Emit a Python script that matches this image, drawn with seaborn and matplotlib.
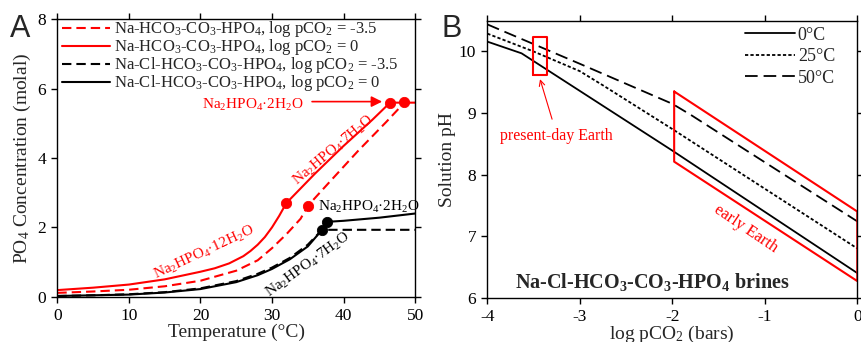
import matplotlib
matplotlib.use("Agg")
import matplotlib.pyplot as plt
import seaborn as sns

# -----------------------------
# Data: panel A (PO4 solubility vs temperature)
# -----------------------------
red_solid_T = [0, 5, 10, 15, 20, 22, 24, 26, 27, 28, 29, 30, 31, 32, 36, 40, 44, 46.5, 48.5, 50]
red_solid_C = [0.19, 0.26, 0.35, 0.5, 0.72, 0.82, 0.96, 1.17, 1.32, 1.5, 1.72, 2.0, 2.33, 2.7,
               3.55, 4.35, 5.1, 5.6, 5.6, 5.6]

red_dash_T = [0, 5, 10, 15, 20, 25, 28, 30, 32, 34, 35, 38, 42, 46, 48.5, 50]
red_dash_C = [0.11, 0.15, 0.2, 0.3, 0.46, 0.75, 1.05, 1.4, 1.8, 2.25, 2.62, 3.3, 4.2, 5.05, 5.6, 5.6]

blk_solid_T = [0, 5, 10, 15, 20, 25, 28, 30, 32.5, 35, 37, 37.7, 40, 45, 50]
blk_solid_C = [0.02, 0.04, 0.06, 0.12, 0.22, 0.42, 0.62, 0.8, 1.08, 1.45, 1.93, 2.16, 2.19, 2.28, 2.4]

blk_dash_T = [0, 5, 10, 15, 20, 25, 28, 30, 32.5, 35, 37, 50]
blk_dash_C = [0.02, 0.04, 0.07, 0.13, 0.24, 0.45, 0.66, 0.84, 1.12, 1.5, 1.93, 1.93]

red_pts_T = [32.0, 35.0, 46.5, 48.5]
red_pts_C = [2.7, 2.62, 5.6, 5.62]
blk_pts_T = [37.0, 37.7]
blk_pts_C = [1.93, 2.16]

legend_A = [
    r"Na-HCO$_3$-CO$_3$-HPO$_4$, log pCO$_2$ = -3.5",
    r"Na-HCO$_3$-CO$_3$-HPO$_4$, log pCO$_2$ = 0",
    r"Na-Cl-HCO$_3$-CO$_3$-HPO$_4$, log pCO$_2$ = -3.5",
    r"Na-Cl-HCO$_3$-CO$_3$-HPO$_4$, log pCO$_2$ = 0",
]

# -----------------------------
# Data: panel B (pH vs log pCO2)
# -----------------------------
pH0_x = [-4, -3.63, -2, 0]
pH0_y = [10.16, 9.97, 8.39, 6.40]
pH25_x = [-4, -3.5, -3.0, -2.75, -2, 0]
pH25_y = [10.29, 10.0, 9.68, 9.45, 8.74, 6.80]
pH50_x = [-4, -3, -2.2, -2, -1.8, -1, 0]
pH50_y = [10.44, 9.8, 9.28, 9.15, 8.97, 8.2, 7.24]

present_box_x = [-3.51, -3.36, -3.36, -3.51, -3.51]
present_box_y = [9.62, 9.62, 10.24, 10.24, 9.62]
early_box_x = [-1.98, 0, 0, -1.98, -1.98]
early_box_y = [9.35, 7.40, 6.27, 8.21, 9.35]

legend_B = ["0°C", "25°C", "50°C"]

# -----------------------------
# Style
# -----------------------------
sns.set_style("ticks")
plt.rcParams.update({
    "font.family": ["Liberation Serif", "DejaVu Serif"],
    "mathtext.fontset": "custom",
    "mathtext.rm": "Liberation Serif",
    "mathtext.it": "Liberation Serif:italic",
    "mathtext.bf": "Liberation Serif:bold",
    "axes.unicode_minus": False,
    "font.size": 12,
    "axes.edgecolor": "black",
    "axes.linewidth": 1.0,
    "xtick.color": "black",
    "ytick.color": "black",
    "xtick.labelsize": 12.5,
    "ytick.labelsize": 12.5,
    "axes.labelsize": 14,
})

fig = plt.figure(figsize=(8.61, 3.42), dpi=100)
axA = fig.add_axes([0.0666, 0.1325, 0.4155, 0.8105])
axB = fig.add_axes([0.566, 0.1295, 0.4297, 0.81])

RED = "#ff0000"
dashA = (0, (4.5, 2.4))

# -----------------------------
# Panel A
# -----------------------------
sns.lineplot(x=red_dash_T, y=red_dash_C, ax=axA, color=RED, linewidth=1.5,
             linestyle=dashA, sort=False, estimator=None, label=legend_A[0])
sns.lineplot(x=red_solid_T, y=red_solid_C, ax=axA, color=RED, linewidth=1.5,
             sort=False, estimator=None, label=legend_A[1])
sns.lineplot(x=blk_dash_T, y=blk_dash_C, ax=axA, color="black", linewidth=1.5,
             linestyle=dashA, sort=False, estimator=None, label=legend_A[2])
sns.lineplot(x=blk_solid_T, y=blk_solid_C, ax=axA, color="black", linewidth=1.5,
             sort=False, estimator=None, label=legend_A[3])
sns.scatterplot(x=red_pts_T, y=red_pts_C, ax=axA, color=RED, s=55,
                edgecolor=RED, zorder=5)
sns.scatterplot(x=blk_pts_T, y=blk_pts_C, ax=axA, color="black", s=55,
                edgecolor="black", zorder=5)

axA.set_xlim(0, 50)
axA.set_ylim(0, 8)
axA.set_xticks([0, 10, 20, 30, 40, 50])
axA.set_yticks([0, 2, 4, 6, 8])
axA.set_xlabel("Temperature (°C)", labelpad=0)
axA.set_ylabel(r"PO$_4$ Concentration (molal)", labelpad=3)

axA.legend(loc="upper left", bbox_to_anchor=(0.012, 1.0), frameon=False,
           fontsize=12, handlelength=2.9, handletextpad=0.25,
           labelspacing=-0.12, borderpad=0.0, borderaxespad=0.0)

axA.text(27.4, 5.53, r"Na$_2$HPO$_4$·2H$_2$O", color=RED, fontsize=11,
         ha="center", va="center")
axA.annotate("", xy=(45.4, 5.63), xytext=(35.6, 5.63),
             arrowprops=dict(arrowstyle="-|>", color=RED, lw=1.2,
                             mutation_scale=16, shrinkA=0, shrinkB=0))
axA.text(38.6, 4.23, r"Na$_2$HPO$_4$·7H$_2$O", color=RED, fontsize=11,
         ha="center", va="center", rotation=40)
axA.text(20.5, 1.27, r"Na$_2$HPO$_4$·12H$_2$O", color=RED, fontsize=11,
         ha="center", va="center", rotation=25)
axA.text(43.6, 2.6, r"Na$_2$HPO$_4$·2H$_2$O", color="black", fontsize=11,
         ha="center", va="center")
axA.text(35.0, 0.92, r"Na$_2$HPO$_4$·7H$_2$O", color="black", fontsize=11,
         ha="center", va="center", rotation=36)

# -----------------------------
# Panel B
# -----------------------------
sns.lineplot(x=pH0_x, y=pH0_y, ax=axB, color="black", linewidth=1.3,
             sort=False, estimator=None, label=legend_B[0])
sns.lineplot(x=pH25_x, y=pH25_y, ax=axB, color="black", linewidth=1.3,
             linestyle=(0, (1.8, 1.2)), sort=False, estimator=None, label=legend_B[1])
sns.lineplot(x=pH50_x, y=pH50_y, ax=axB, color="black", linewidth=1.3,
             linestyle=(0, (7.0, 3.3)), sort=False, estimator=None, label=legend_B[2])
sns.lineplot(x=present_box_x, y=present_box_y, ax=axB, color=RED, linewidth=1.5,
             sort=False, estimator=None)
sns.lineplot(x=early_box_x, y=early_box_y, ax=axB, color=RED, linewidth=1.5,
             sort=False, estimator=None)

axB.set_xlim(-4, 0)
axB.set_ylim(6, 10.5)
axB.set_xticks([-4, -3, -2, -1, 0])
axB.set_yticks([6, 7, 8, 9, 10])
axB.set_xlabel(r"log pCO$_2$ (bars)", labelpad=-1)
axB.set_ylabel("Solution pH", labelpad=2)

axB.legend(loc="upper right", bbox_to_anchor=(0.94, 0.978), frameon=False,
           fontsize=13, handlelength=2.8, handletextpad=0.15,
           labelspacing=0.25, borderpad=0.0, borderaxespad=0.0)

axB.annotate("", xy=(-3.43, 9.55), xytext=(-3.30, 8.9),
             arrowprops=dict(arrowstyle="->", color=RED, lw=0.8,
                             mutation_scale=10, shrinkA=0, shrinkB=0))
axB.text(-3.25, 8.63, "present-day Earth", color=RED, fontsize=11.5,
         ha="center", va="center")
axB.text(-1.21, 7.12, "early Earth", color=RED, fontsize=12,
         ha="center", va="center", rotation=-34)
axB.text(-2.22, 6.26, r"Na-Cl-HCO$_\mathbf{3}$-CO$_\mathbf{3}$-HPO$_\mathbf{4}$ brines",
         fontsize=14.5, fontweight="bold", ha="center", va="center")

for ax in (axA, axB):
    ax.tick_params(direction="out", top=True, right=True, labeltop=False,
                   labelright=False, length=4, width=1.0, pad=4)
    for sp in ax.spines.values():
        sp.set_visible(True)
        sp.set_color("black")

fig.text(0.011, 0.892, "A", fontsize=22, family="Liberation Sans", va="baseline")
fig.text(0.513, 0.892, "B", fontsize=22, family="Liberation Sans", va="baseline")

plt.savefig("out.png", dpi=100)
